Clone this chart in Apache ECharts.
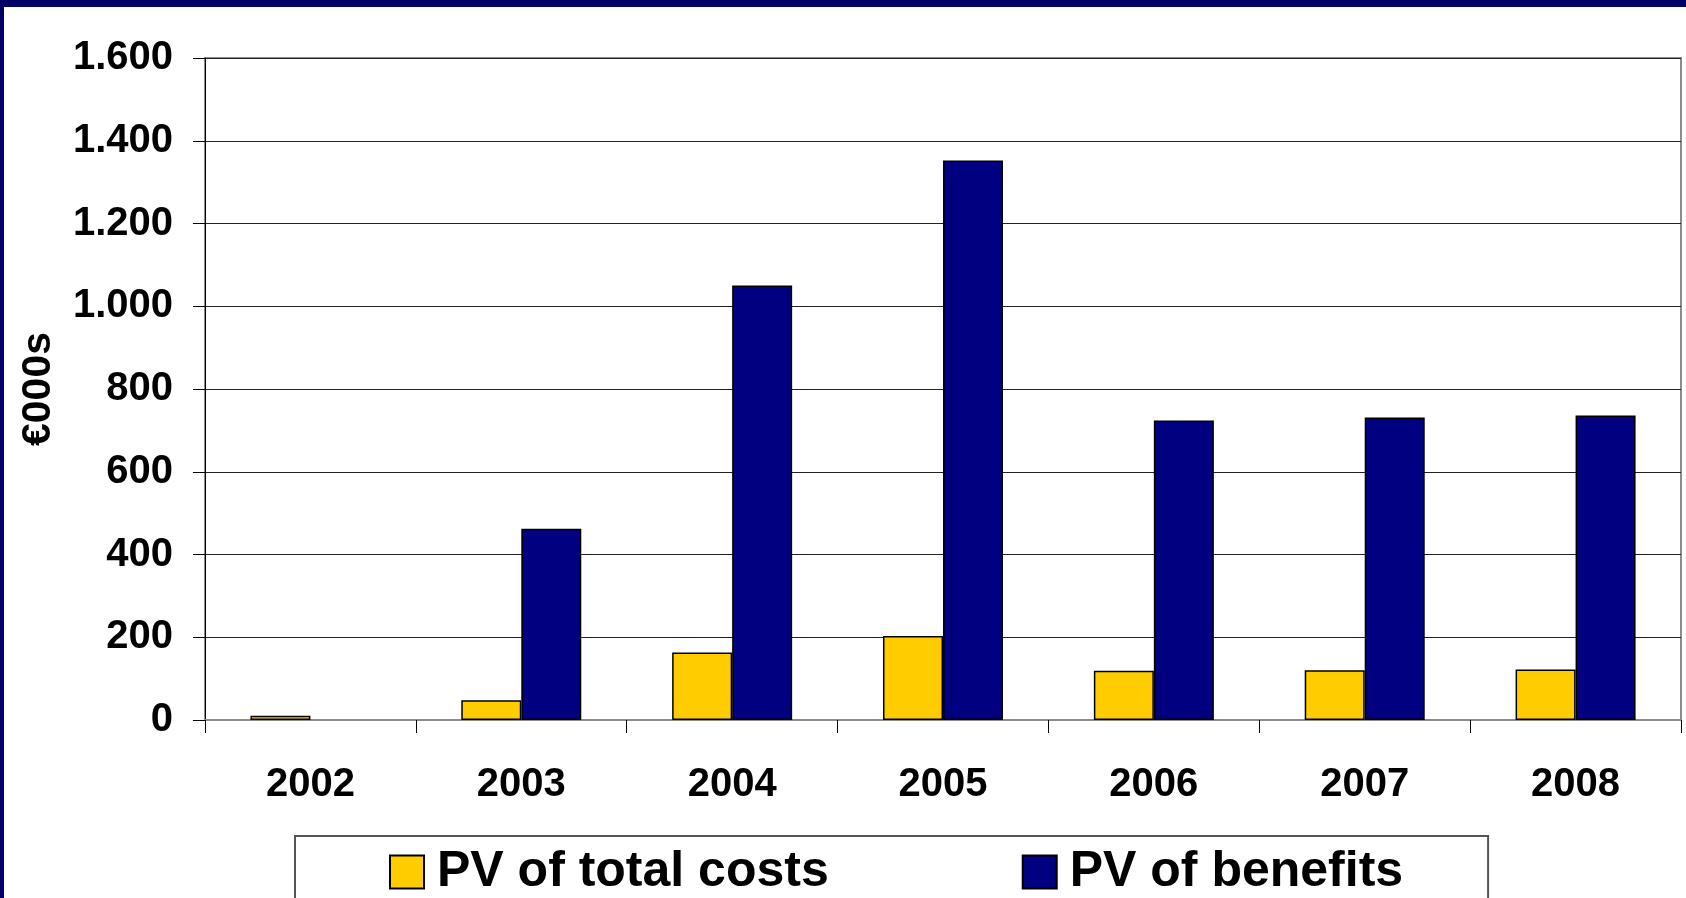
<!DOCTYPE html>
<html>
<head>
<meta charset="utf-8">
<title>PV of costs and benefits</title>
<script src="https://cdn.jsdelivr.net/npm/echarts@6/dist/echarts.min.js"></script>
<style>
  html, body { margin: 0; padding: 0; background: #fff; }
  #chart { width: 1686px; height: 898px; }
</style>
</head>
<body>
<div id="chart"></div>
<script>
// data (€000s)
var years = ['2002', '2003', '2004', '2005', '2006', '2007', '2008'];
var totalCosts = [10, 48, 163, 203, 119, 120, 122];
var benefits = [null, 462, 1050, 1352, 724, 731, 736];
var seriesNames = ['PV of total costs', 'PV of benefits'];
var yTicks = { min: 0, max: 1600, step: 200 };

var FONT = '"Liberation Sans", Arial, sans-serif';

var myChart = echarts.init(document.getElementById('chart'), null, { renderer: 'canvas' });

var option = {
  backgroundColor: '#ffffff',
  animation: false,
  // navy slide frame along top and left
  graphic: [
    { type: 'rect', left: 0, top: 0, shape: { width: 1686, height: 7 }, style: { fill: '#010066' }, z: 100 },
    { type: 'rect', left: 0, top: 0, shape: { width: 4, height: 898 }, style: { fill: '#010066' }, z: 100 }
  ],
  grid: {
    left: 205,
    right: 5,
    top: 58,
    bottom: 178,
    outerBoundsMode: 'none',
    containLabel: false,
    show: true,
    borderColor: '#8c8c8c',
    borderWidth: 2,
    backgroundColor: '#ffffff'
  },
  legend: {
    left: 295,
    top: 836,
    orient: 'horizontal',
    icon: 'rect',
    itemWidth: 34,
    itemHeight: 33,
    itemGap: 193,
    padding: [11, 85, 80, 94],
    borderColor: '#555555',
    borderWidth: 2,
    backgroundColor: '#ffffff',
    textStyle: {
      fontFamily: FONT,
      fontWeight: 'bold',
      fontSize: 50,
      color: '#000',
      padding: [0, 0, 0, 8]
    },
    data: seriesNames
  },
  xAxis: {
    type: 'category',
    data: years,
    axisLine: { show: true, lineStyle: { color: '#8c8c8c', width: 2 } },
    axisTick: { show: true, alignWithLabel: false, length: 13, lineStyle: { color: '#000', width: 1 } },
    axisLabel: {
      margin: 45,
      fontFamily: FONT,
      fontWeight: 'bold',
      fontSize: 40,
      color: '#000'
    },
    splitLine: { show: false }
  },
  yAxis: {
    type: 'value',
    min: yTicks.min,
    max: yTicks.max,
    interval: yTicks.step,
    name: '€000s',
    nameLocation: 'middle',
    nameGap: 146,
    nameRotate: 90,
    nameTextStyle: {
      fontFamily: FONT,
      fontWeight: 'bold',
      fontSize: 41,
      color: '#000'
    },
    axisLine: { show: true, lineStyle: { color: '#000', width: 1 } },
    axisTick: { show: true, length: 12, lineStyle: { color: '#000', width: 1 } },
    axisLabel: {
      margin: 32,
      fontFamily: FONT,
      fontWeight: 'bold',
      fontSize: 40,
      color: '#000',
      formatter: function (v) {
        // continental thousands separator, e.g. 1.600
        return String(v).replace(/\B(?=(\d{3})+(?!\d))/g, '.');
      }
    },
    splitLine: { show: true, lineStyle: { color: '#222', width: 1 } }
  },
  series: [
    {
      name: seriesNames[0],
      type: 'bar',
      data: totalCosts,
      barWidth: 60,
      barGap: '0%',
      itemStyle: { color: '#ffcc00', borderColor: '#000', borderWidth: 1.5 }
    },
    {
      name: seriesNames[1],
      type: 'bar',
      data: benefits,
      barWidth: 60,
      barGap: '0%',
      itemStyle: { color: '#000080', borderColor: '#000', borderWidth: 1.5 }
    }
  ]
};

myChart.setOption(option);
</script>
</body>
</html>
